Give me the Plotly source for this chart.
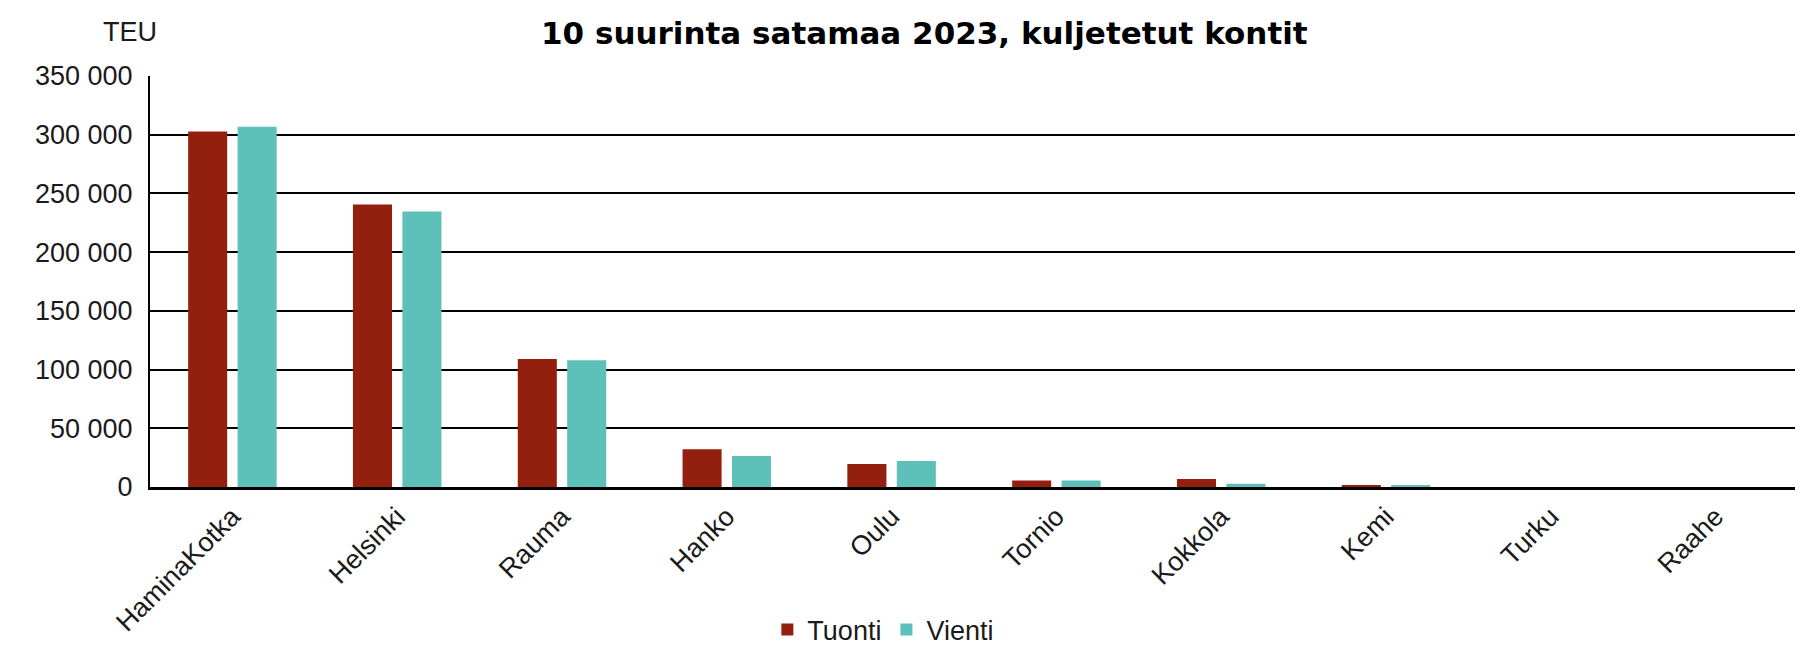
import plotly.graph_objects as go

categories = ["HaminaKotka", "Helsinki", "Rauma", "Hanko", "Oulu", "Tornio", "Kokkola", "Kemi", "Turku", "Raahe"]
tuonti = [302700, 240500, 108900, 32200, 19500, 5500, 6900, 1600, 0, 0]
vienti = [306800, 234600, 107900, 26500, 22200, 5500, 2800, 1200, 0, 0]
y_ticks = [0, 50000, 100000, 150000, 200000, 250000, 300000, 350000]

FONT = "Liberation Sans, Arial, sans-serif"

fig = go.Figure()
fig.add_trace(go.Bar(name="Tuonti", x=categories, y=tuonti, marker=dict(color="#93200E", line=dict(width=0))))
fig.add_trace(go.Bar(name="Vienti", x=categories, y=vienti, marker=dict(color="#5EC1B9", line=dict(width=0))))

fig.update_layout(
    width=1803, height=658,
    margin=dict(l=142, r=13, t=68, b=165),
    paper_bgcolor="white", plot_bgcolor="white",
    barmode="group", bargap=0.40, bargroupgap=0.21,
    separators=", ",
    font=dict(family=FONT, size=27, color="#1a1a1a"),
    showlegend=True,
    legend=dict(orientation="h", x=0.445, xanchor="center", y=-0.348, yanchor="middle",
                font=dict(size=27), itemwidth=30, traceorder="normal"),
    xaxis=dict(showgrid=False, showline=True, linecolor="black", linewidth=3, tickangle=-45,
               ticks="", tickfont=dict(size=27)),
    yaxis=dict(range=[0, 350000], tickvals=y_ticks, tickformat=",d", showgrid=True,
               gridcolor="black", gridwidth=2, showline=True, linecolor="black", linewidth=2,
               ticks="", zeroline=False, tickfont=dict(size=27), ticklabelstandoff=10),
)

fig.add_annotation(text="<b>10 suurinta satamaa 2023, kuljetetut kontit</b>", xref="paper", yref="paper",
                   x=0.47, y=1.153, xanchor="center", yanchor="top", showarrow=False,
                   font=dict(size=31, family="DejaVu Sans, sans-serif", color="black"))
fig.add_annotation(text="TEU", xref="paper", yref="paper", x=-0.012, y=1.106,
                   xanchor="center", yanchor="middle", showarrow=False, font=dict(size=27))

fig.write_html("out.html")
